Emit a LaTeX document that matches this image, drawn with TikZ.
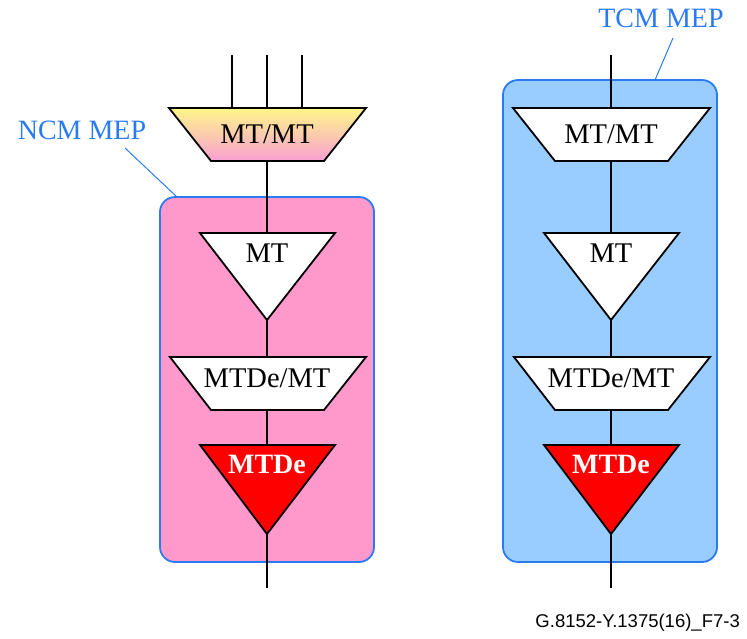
\documentclass[tikz,border=0pt]{standalone}
\usepackage{fontspec}
\setmainfont{Liberation Serif}
\newfontfamily\labelsans{Liberation Sans}
\definecolor{mepblue}{HTML}{2A7BF2}
\definecolor{ncmpink}{HTML}{FF99CC}
\definecolor{tcmblue}{HTML}{99CCFF}
\definecolor{gradtop}{HTML}{FFF68A}
\definecolor{gradbot}{HTML}{F8A0D2}
\tikzset{
  mepbox/.style={draw=mepblue, line width=1.8pt, rounded corners=15pt},
  leader/.style={draw=mepblue, line width=1pt},
  sigline/.style={draw=black, line width=1.6pt},
  fnshape/.style={draw=black, line width=1.8pt, line join=miter},
  fntext/.style={font=\fontsize{28.5}{31}\selectfont, text=black, inner sep=0pt},
  fnbold/.style={font=\fontsize{28}{31}\selectfont\bfseries, text=white, inner sep=0pt},
  meplabel/.style={font=\fontsize{28}{31}\selectfont, text=mepblue, inner sep=0pt},
}
\begin{document}
\begin{tikzpicture}[x=1pt,y=-1pt]
\useasboundingbox (0,0) rectangle (747,638);
% MEP boxes
\path[mepbox, fill=ncmpink] (160,197) rectangle (374,562);
\path[mepbox, fill=tcmblue] (503,80) rectangle (717,562);
% labels
\node[meplabel] (ncm) at (82,130) {NCM MEP};
\node[meplabel] (tcm) at (661,18) {TCM MEP};
\coordinate (ncmA) at (125,148);
\coordinate (ncmB) at (177,197);
\coordinate (tcmA) at (673,38);
\coordinate (tcmB) at (655,80);
\draw[leader] (ncmA) -- (ncmB);
\draw[leader] (tcmA) -- (tcmB);
% signal lines
\coordinate (l1t) at (232,55); \coordinate (l1b) at (232,108);
\coordinate (l2t) at (267,55); \coordinate (l2b) at (267,588);
\coordinate (l3t) at (302,55); \coordinate (l3b) at (302,108);
\coordinate (r2t) at (611,55); \coordinate (r2b) at (611,588);
\draw[sigline] (l1t) -- (l1b);
\draw[sigline] (l3t) -- (l3b);
\draw[sigline] (l2t) -- (l2b);
\draw[sigline] (r2t) -- (r2b);
% left column
\shade[top color=gradtop, bottom color=gradbot] (169,108) -- (366,108) -- (324,161) -- (211,161) -- cycle;
\draw[fnshape] (169,108) -- (366,108) -- (324,161) -- (211,161) -- cycle;
\node[fntext] (lmtmt) at (267,134) {MT/MT};
\draw[fnshape, fill=white] (200,233) -- (335,233) -- (267,320) -- cycle;
\node[fntext] (lmt) at (267,253) {MT};
\draw[fnshape, fill=white] (170,357) -- (366,357) -- (324,410) -- (211,410) -- cycle;
\node[fntext] (lmtdemt) at (267,378) {MTDe/MT};
\draw[fnshape, fill=red] (200,445) -- (335,445) -- (267,534) -- cycle;
\node[fnbold] (lmtde) at (267,464) {MTDe};
% right column
\draw[fnshape, fill=white] (513,108) -- (710,108) -- (668,161) -- (555,161) -- cycle;
\node[fntext] (rmtmt) at (611,134) {MT/MT};
\draw[fnshape, fill=white] (544,233) -- (679,233) -- (611,320) -- cycle;
\node[fntext] (rmt) at (611,253) {MT};
\draw[fnshape, fill=white] (514,357) -- (710,357) -- (668,410) -- (555,410) -- cycle;
\node[fntext] (rmtdemt) at (611,378) {MTDe/MT};
\draw[fnshape, fill=red] (544,445) -- (679,445) -- (611,534) -- cycle;
\node[fnbold] (rmtde) at (611,464) {MTDe};
% figure id
\node[font=\labelsans\fontsize{18.5}{20}\selectfont, inner sep=0pt, anchor=east] (figid) at (740,623) {G.8152-Y.1375(16)\_F7-3};
\end{tikzpicture}
\end{document}
